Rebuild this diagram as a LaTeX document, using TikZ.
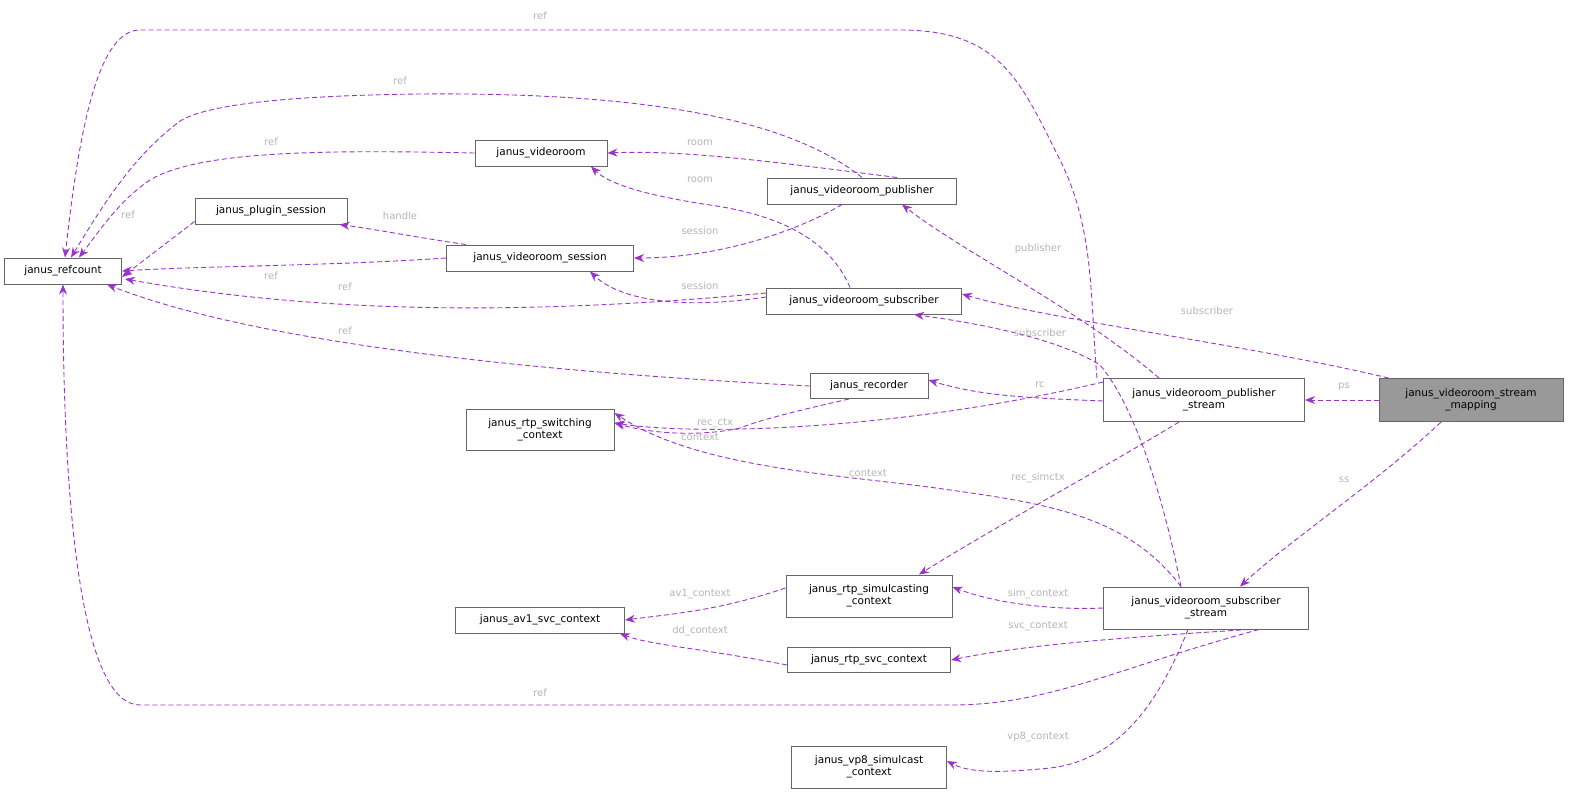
\documentclass[tikz,border=0pt]{standalone}
\usepackage{fontspec}
\setmainfont{DejaVu Sans}
\usetikzlibrary{arrows.meta}
\definecolor{ec}{HTML}{9A32CD}
\definecolor{lc}{HTML}{B4B4B4}
\definecolor{bc}{HTML}{666666}
\begin{document}
\begin{tikzpicture}[x=1pt,y=-1pt,
  box/.style={draw=bc,line width=1pt,fill=white,inner sep=0pt,font=\fontsize{10.5}{12}\selectfont,align=center},
  e/.style={draw=ec,line width=0.9pt,dash pattern=on 5pt off 3pt,-{Stealth[length=10pt,width=8pt]}},
  lb/.style={text=lc,font=\fontsize{10}{12}\selectfont,inner sep=0pt}]
\useasboundingbox (0,0) rectangle (1595,807);
\node[box,minimum width=117,minimum height=26] (rc) at (63,271) {janus\_refcount};
\node[box,minimum width=152,minimum height=26] (plg) at (271,211) {janus\_plugin\_session};
\node[box,minimum width=132,minimum height=26] (vr) at (541,153) {janus\_videoroom};
\node[box,minimum width=187,minimum height=26] (ses) at (540,258) {janus\_videoroom\_session};
\node[box,minimum width=189,minimum height=26] (pub) at (862,191) {janus\_videoroom\_publisher};
\node[box,minimum width=195,minimum height=26] (sub) at (864,301) {janus\_videoroom\_subscriber};
\node[box,minimum width=118,minimum height=25] (rec) at (869,386) {janus\_recorder};
\node[box,minimum width=148,minimum height=41] (sw) at (540,430) {janus\_rtp\_switching\\\_context};
\node[box,minimum width=201,minimum height=43] (ps) at (1204,400) {janus\_videoroom\_publisher\\\_stream};
\node[box,fill={rgb,255:red,153;green,153;blue,153},minimum width=184,minimum height=43] (map) at (1471,400) {janus\_videoroom\_stream\\\_mapping};
\node[box,minimum width=166,minimum height=42] (sim) at (869,596) {janus\_rtp\_simulcasting\\\_context};
\node[box,minimum width=169,minimum height=26] (av1) at (540,620) {janus\_av1\_svc\_context};
\node[box,minimum width=163,minimum height=25] (svc) at (869,660) {janus\_rtp\_svc\_context};
\node[box,minimum width=205,minimum height=42] (ss) at (1206,608) {janus\_videoroom\_subscriber\\\_stream};
\node[box,minimum width=155,minimum height=42] (vp8) at (869,767) {janus\_vp8\_simulcast\\\_context};

% edges
\draw[e] ([xshift=-6]ps.north west) .. controls (1090,300) and (1095,230) .. (1060,160) .. controls (1020,80) and (1000,30) .. (900,30) -- (140,30) .. controls (100,30) and (80,120) .. ([xshift=2]rc.north);
\draw[e] (pub.north) .. controls (790,120) and (650,92) .. (420,94) .. controls (250,96) and (190,110) .. (175,125) .. controls (130,160) and (100,210) .. ([xshift=8]rc.north);
\draw[e] (vr.west) .. controls (330,150) and (200,150) .. (150,180) .. controls (120,200) and (100,230) .. ([xshift=16]rc.north);
\draw[e] ([yshift=3]plg.south west) -- ([yshift=-6]rc.east);
\draw[e] (ses.west) .. controls (330,266) and (200,266) .. (rc.east);
\draw[e] ([yshift=8]sub.west) .. controls (500,318) and (300,310) .. (125,279);
\draw[e] (rec.west) .. controls (700,380) and (300,360) .. ([xshift=-15]rc.south east);
\draw[e] ([xshift=-50]ss.south east) .. controls (1110,670) and (1050,705) .. (950,705) -- (140,705) .. controls (80,705) and (63,500) .. (rc.south);
\draw[e] ([xshift=-60]pub.north east) .. controls (760,160) and (680,150) .. (vr.east);
\draw[e] ([xshift=-14]sub.north) .. controls (830,240) and (780,215) .. (710,205) .. controls (650,196) and (610,185) .. ([xshift=50]vr.south);
\draw[e] ([xshift=20]ses.north west) .. controls (420,238) and (380,230) .. ([xshift=-8]plg.south east);
\draw[e] ([xshift=-20]pub.south) .. controls (800,230) and (720,258) .. (ses.east);
\draw[e] ([yshift=4]sub.west) .. controls (680,310) and (620,300) .. ([xshift=50]ses.south);
\draw[e] ([xshift=10]map.north west) .. controls (1250,345) and (1050,320) .. ([yshift=7]sub.east);
\draw[e] ([xshift=-45]ps.north) .. controls (1080,310) and (960,250) .. ([xshift=40]pub.south);
\draw[e] ([xshift=-25]ss.north) .. controls (1160,480) and (1130,400) .. (1100,365) .. controls (1060,340) and (990,325) .. ([xshift=50]sub.south);
\draw[e] ([yshift=-1]ps.west) .. controls (1030,398) and (980,396) .. ([yshift=6]rec.east);
\draw[e] ([yshift=18]ps.west) .. controls (900,430) and (700,436) .. ([yshift=7]sw.east);
\draw[e] ([xshift=-20]rec.south) .. controls (800,410) and (760,420) .. (740,428) .. controls (710,435) and (660,436) .. ([yshift=7]sw.east);
\draw[e] ([xshift=-25]ss.north) .. controls (1130,520) and (1060,505) .. (950,490) .. controls (850,475) and (700,470) .. ([yshift=17]sw.east);
\draw[e] ([xshift=-25]ps.south) .. controls (1100,470) and (990,530) .. ([xshift=50]sim.north);
\draw[e] (map.west) -- (ps.east);
\draw[e] ([xshift=-30]map.south) .. controls (1380,480) and (1290,540) .. ([xshift=34]ss.north);
\draw[e] (ss.west) .. controls (1060,610) and (1000,605) .. ([yshift=9]sim.east);
\draw[e] ([yshift=8]sim.west) .. controls (720,610) and (680,613) .. (av1.east);
\draw[e] ([yshift=-5]svc.west) .. controls (700,648) and (650,645) .. ([xshift=80]av1.south);
\draw[e] ([xshift=-60]ss.south east) .. controls (1080,640) and (1010,648) .. (svc.east);
\draw[e] ([xshift=-18]ss.south) .. controls (1160,700) and (1120,760) .. (1050,768) .. controls (1000,773) and (970,773) .. ([yshift=6]vp8.east);

% labels
\node[lb] (l1) at (540,16) {ref};
\node[lb] (l2) at (400,81) {ref};
\node[lb] (l3) at (271,142) {ref};
\node[lb] (l4) at (128,215) {ref};
\node[lb] (l5) at (271,276) {ref};
\node[lb] (l6) at (345,287) {ref};
\node[lb] (l7) at (345,331) {ref};
\node[lb] (l8) at (540,693) {ref};
\node[lb] (l9) at (700,143) {room};
\node[lb] (l10) at (700,180) {room};
\node[lb] (l11) at (400,216) {handle};
\node[lb] (l12) at (700,231) {session};
\node[lb] (l13) at (700,286) {session};
\node[lb] (l14) at (1207,311) {subscriber};
\node[lb] (l15) at (1038,249) {publisher};
\node[lb] (l16) at (1040,333) {subscriber};
\node[lb] (l17) at (1040,385) {rc};
\node[lb] (l18) at (715,423) {rec\_ctx};
\node[lb] (l19) at (700,437) {context};
\node[lb] (l20) at (868,473) {context};
\node[lb] (l21) at (1038,478) {rec\_simctx};
\node[lb] (l22) at (1344,387) {ps};
\node[lb] (l23) at (1344,480) {ss};
\node[lb] (l24) at (1038,594) {sim\_context};
\node[lb] (l25) at (700,594) {av1\_context};
\node[lb] (l26) at (700,631) {dd\_context};
\node[lb] (l27) at (1038,626) {svc\_context};
\node[lb] (l28) at (1038,737) {vp8\_context};
\end{tikzpicture}
\end{document}
